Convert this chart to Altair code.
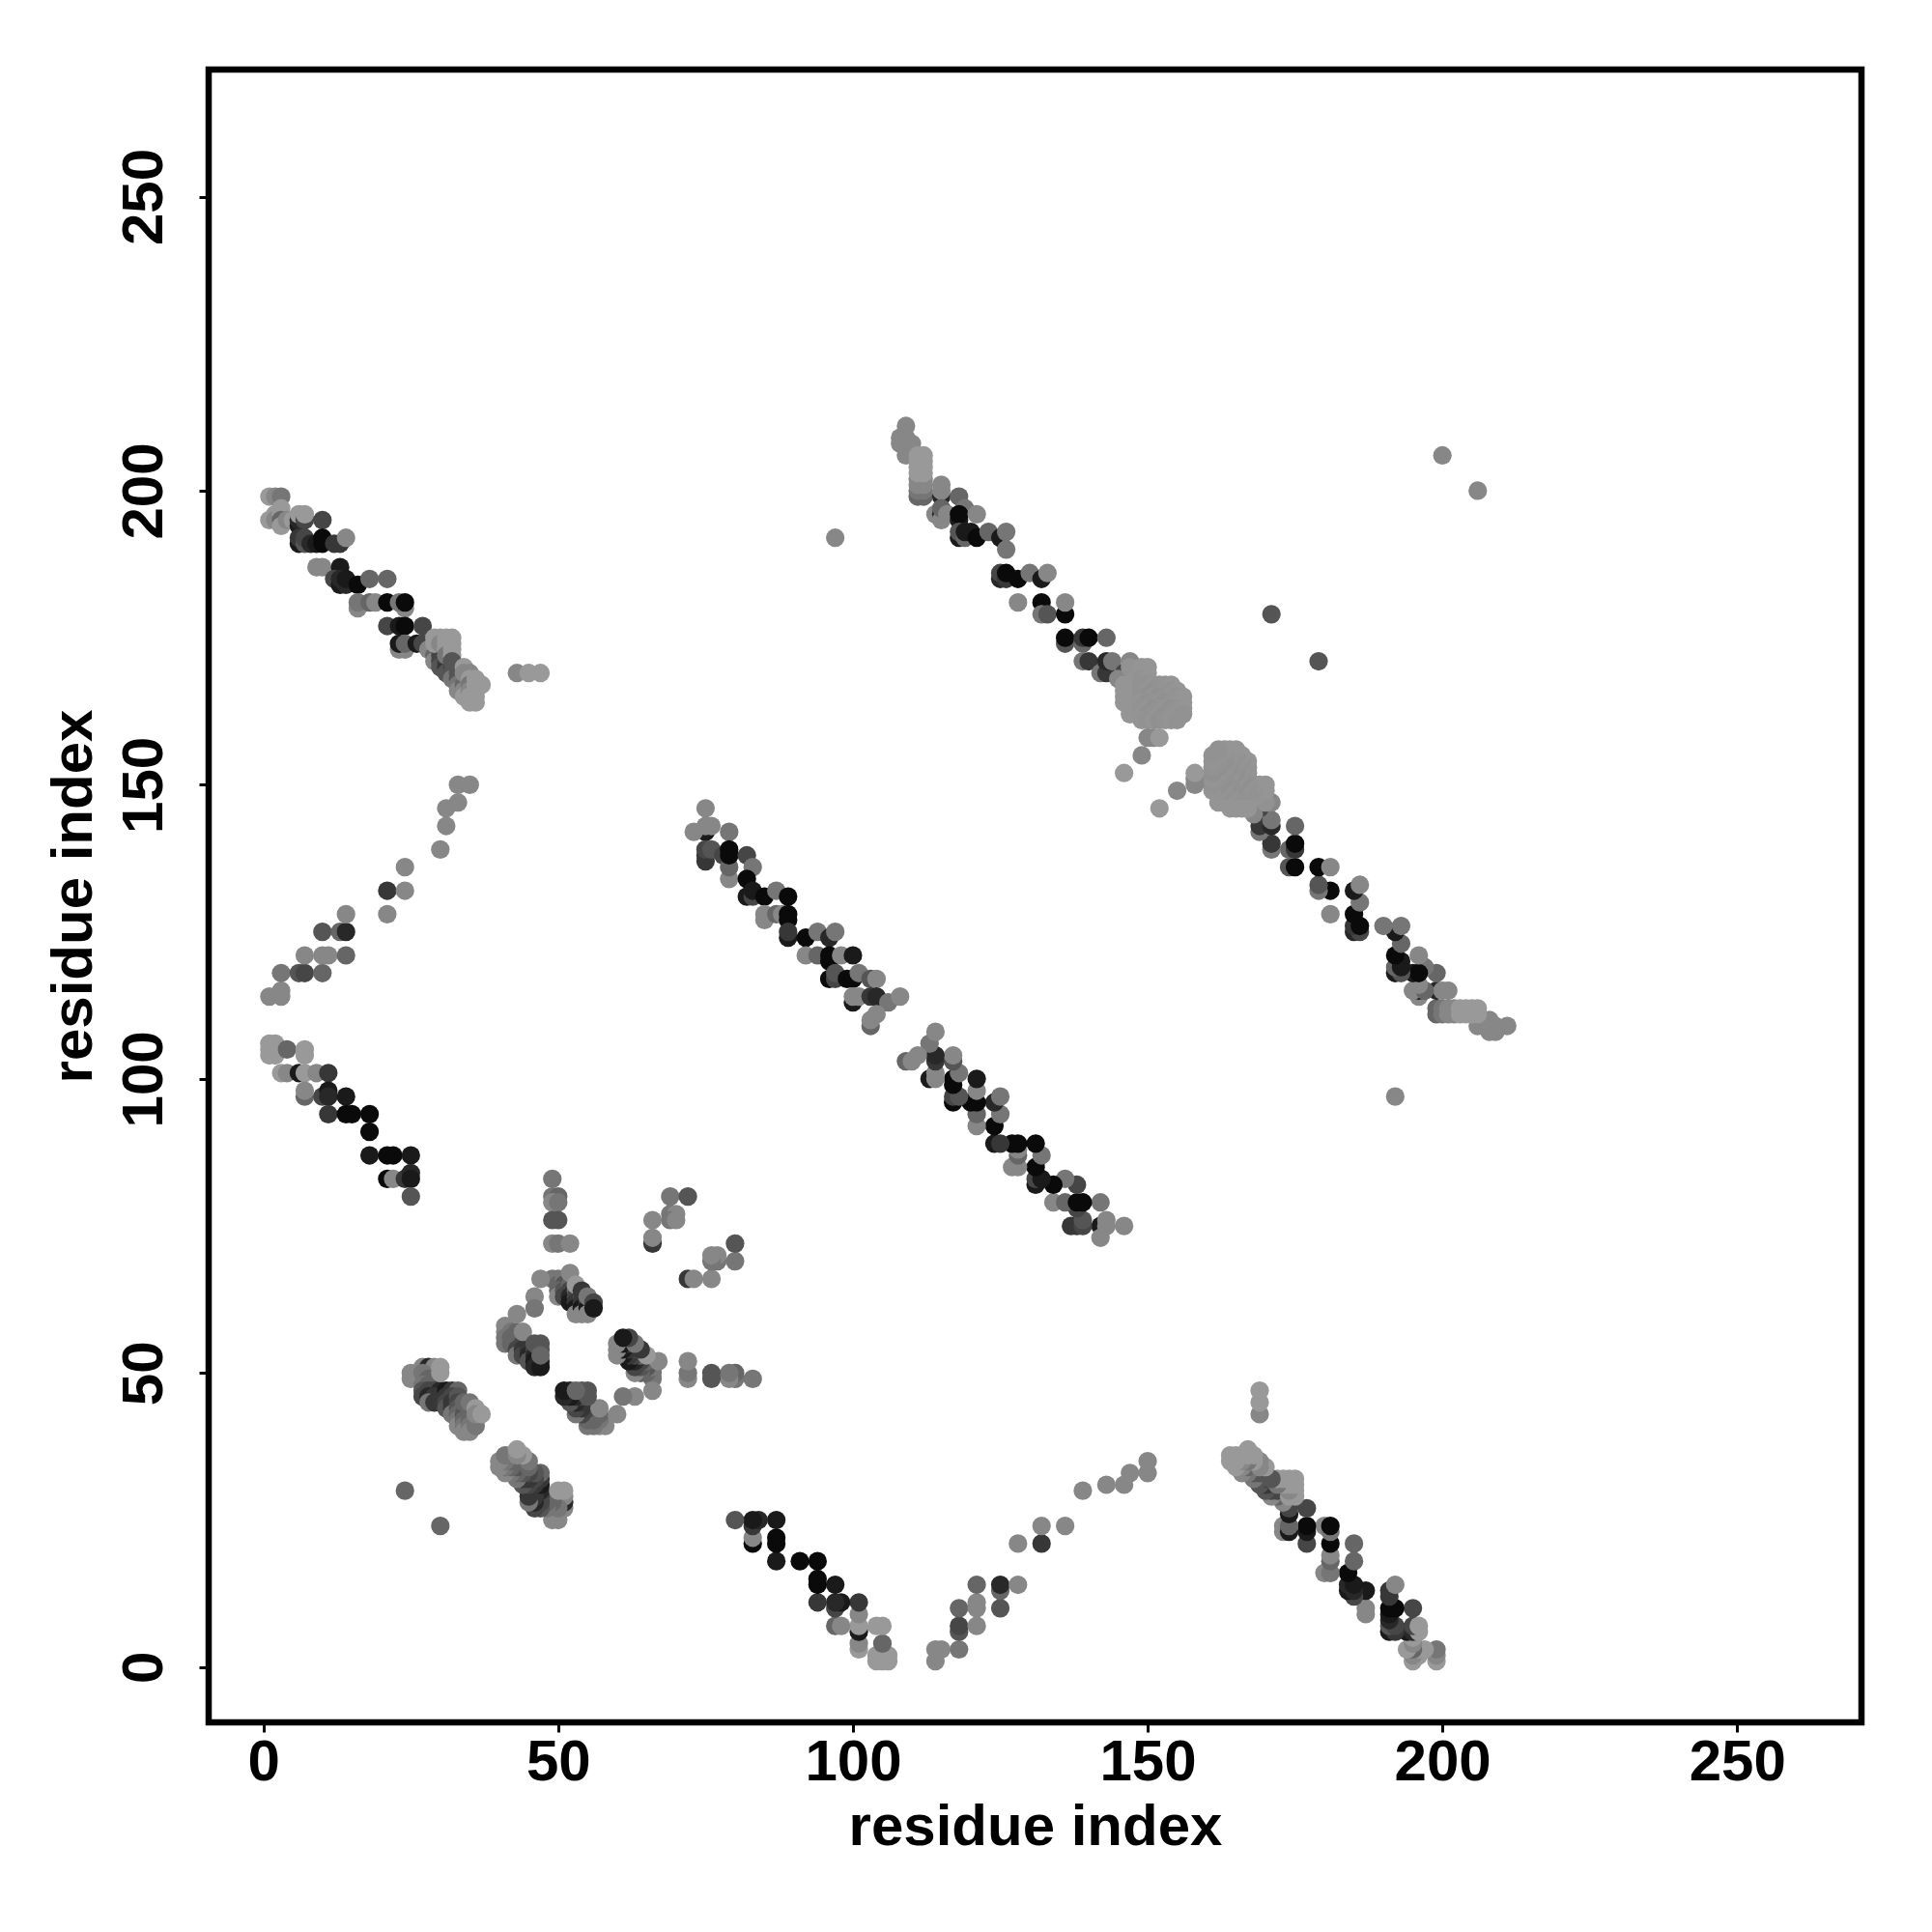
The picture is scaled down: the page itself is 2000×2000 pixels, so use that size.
import altair as alt
import pandas as pd

# A residue contact map is symmetric: each contact (i, j, score) below was read
# from the picture once and is drawn at both (i, j) and (j, i).
# score: 0 = darkest ... 9 = lightest
block_a = [(1,199,9),(2,199,8),(3,199,7),(1,195,9),(2,196,9),(2,195,8),(3,197,9),(3,196,9),(3,195,6),(3,194,9),
 (4,195,8),(5,195,9),(6,194,1),(6,195,2),(6,196,9),(7,195,4),(7,196,9),(10,195,4),(6,191,1),(6,192,3),(7,191,5),(7,192,4),
 (8,191,2),(9,191,1),(10,192,0),(10,191,0),(12,191,3),(13,191,3),(14,192,8),(9,187,8),(10,187,8),(13,187,1),
 (12,185,4),(13,184,1),(14,184,2),(13,185,2),(14,185,1),(16,184,0),(18,185,6),(21,185,6),(16,180,8),(16,181,7),(18,181,6),(19,181,8),
 (21,181,0),(24,180,8),(23,181,7),(24,181,0),(21,177,4),(23,177,1),(24,177,0),(27,177,4),(23,173,8),(24,173,8),(23,174,1),(24,174,6),
 (26,174,1),(27,174,4),(28,173,8),(29,172,6),(29,171,8),(30,173,6),(30,172,4),(30,171,4),(30,170,5),(31,171,4),(31,170,3),(31,169,5),
 (32,170,4),(32,169,5),(32,168,7),(33,170,6),(33,169,5),(33,168,5),(33,167,7),(33,166,8),(34,168,7),(34,167,6),(34,166,8),(34,165,9),
 (29,175,9),(29,174,9),(30,175,9),(30,174,8),(31,175,9),(31,174,9),(31,173,9),(31,172,7),(32,175,9),(32,174,9),(32,173,9),(32,172,9),(32,171,5),
 (34,170,9),(34,169,8),(35,169,8),(35,168,9),(35,167,7),(35,166,8),(35,165,9),(35,164,9),(36,168,9),(36,167,9),(36,166,9),(36,165,9),(36,164,9),(37,167,9),
 (43,169,8),(45,169,9),(47,169,9)]

block_b = [(1,106,9),(2,106,9),(1,105,9),(2,105,9),(1,104,9),(2,104,9),(4,105,6),(7,105,9),(7,104,9),(3,101,9),(4,101,8),(6,101,1),(7,101,9),(9,101,8),(11,101,3),
 (7,97,6),(7,98,8),(10,97,4),(11,98,1),(11,97,2),(14,97,1),(11,94,3),(14,94,0),(15,94,0),(18,94,0),(18,91,0),(18,87,1),(21,87,0),(22,87,0),(25,87,1),
 (21,83,0),(22,83,8),(24,83,3),(25,84,2),(25,83,1),(25,80,5)]

block_c = [(1,114,8),(3,114,8),(3,115,8),(3,118,7),(6,118,5),(7,118,4),(10,118,6),(7,121,8),(10,121,8),(11,121,8),(14,121,6),(10,125,5),(13,125,6),(14,125,2),
 (14,128,8),(21,128,8),(21,132,3),(24,132,8),(24,136,8),(30,139,8),(31,143,8),(31,146,8),(33,147,8),(33,150,8),(35,150,8)]

block_d = [(75,146,8),(75,142,1),(73,142,8),(75,143,8),(76,143,8),(79,142,7),(75,137,3),(75,138,3),(75,139,4),(76,139,5),(78,138,4),(79,134,8),(79,136,6),(79,139,0),(79,138,0),
 (82,138,4),(83,136,7),(82,134,0),(82,131,1),(83,131,4),(83,132,1),(85,131,0),(87,132,7),(89,131,0),(85,127,8),(85,128,8),(87,128,6),(88,128,8),(89,128,0),(89,127,0),
 (89,124,1),(89,125,3),(92,124,0),(94,125,7),(96,124,2),(97,125,7),(92,121,8),(94,121,6),(96,120,0),(96,121,0),(98,121,8),(100,121,1),
 (96,117,0),(97,117,4),(97,118,5),(99,117,0),(100,117,0),(101,118,7),(103,117,5),(104,117,8),(100,113,1),(100,114,8),(101,114,8),(103,114,3),(104,114,2),
 (106,113,7),(108,114,8),(103,109,6),(103,110,8),(104,111,8)]

block_e = [(109,211,8),(108,209,8),(108,208,8),(109,209,8),(109,208,8),(109,206,8),(110,208,8),(110,207,8),
 (111,199,6),(112,199,6),(111,200,7),(112,200,7),(111,201,8),(112,201,8),(111,202,8),(112,202,8),(111,203,9),(112,203,9),(111,204,9),(112,204,9),(111,205,9),(112,205,9),(111,206,9),(112,206,9),
 (115,199,2),(115,200,8),(115,201,8),(118,199,6),(119,197,7),(114,196,8),(115,196,2),(115,195,8),(115,197,6),(116,196,8),(118,195,1),(118,196,0),(121,196,8),
 (118,192,1),(118,193,5),(119,192,6),(119,193,1),(120,193,1),(121,192,0),(123,193,6),(125,192,1),(126,193,7),(126,190,7),
 (125,185,2),(125,186,4),(126,185,3),(126,186,0),(128,185,0),(130,186,7),(132,185,1),(133,186,8),(128,181,8),(132,181,0),(132,179,7),(133,179,5),(136,179,0),(136,181,8),
 (136,174,5),(136,175,0),(139,174,6),(139,175,3),(140,175,0),(143,175,6),(139,171,7),(140,171,3),(142,169,7),(143,169,3),(143,171,2),(144,171,7),(146,169,4),(147,171,8),
 (145,168,8),(146,167,8.8),(146,166,8.8),(146,165,8.8),(146,164,8.8),(147,170,8.6),(147,162,8.8),(148,168,8.8),(148,167,8.8),(148,166,8.8),(148,165,8.8),(148,164,8.8),(148,163,8.8),
 (149,170,8.8),(150,170,8.8),(149,169,8.8),(150,169,8.8),(149,168,8.6),(150,168,8.8),(149,167,8.6),(150,167,8.6),(151,167,8.7),(152,167,8.6),(153,167,8.7),(154,167,8.8),
 (149,166,8.6),(150,166,8.7),(151,166,8.5),(152,166,8.6),(153,166,8.7),(154,166,8.6),(155,166,8.8),
 (149,165,8.6),(150,165,8.5),(151,165,8.7),(152,165,8.5),(153,165,8.6),(154,165,8.7),(155,165,8.6),(156,165,8.8),
 (149,164,8.7),(150,164,8.5),(151,164,8.6),(152,164,8.7),(153,164,8.5),(154,164,8.6),(155,164,8.7),(156,164,8.8),
 (149,163,8.6),(150,163,8.7),(151,163,8.5),(152,163,8.6),(153,163,8.7),(154,163,8.5),(155,163,8.6),(156,163,8.8),
 (149,162,8.7),(150,162,8.5),(151,162,8.6),(152,162,8.7),(153,162,8.5),(154,162,8.6),(155,162,8.7),(156,162,8.6),
 (149,161,8.7),(150,161,8.6),(151,161,8.7),(152,161,8.5),(153,161,8.6),(154,161,8.7),(155,161,8.6),
 (150,158,8),(151,158,8),(152,158,9),(149,155,8),(146,152,9)]

block_g = [(25,50,8),(25,49,8),(27,51,8),(28,51,2),(29,51,8),(27,50,7),(28,49,6),(27,48,7),(28,48,6),(27,47,5),(28,47,4),(29,47,4),(30,47,2),(27,46,4),(28,46,2),(29,46,3),
 (28,45,7),(29,45,3),(30,46,3),(31,47,1),(30,45,3),(31,46,3),(32,47,3),(33,47,6),(31,45,4),(31,44,5),(32,46,4),(32,45,3),(32,44,3),(32,43,7),(33,46,5),(33,45,4),(33,44,5),(33,43,6),
 (33,42,7),(33,41,8),(34,44,6),(34,43,5),(34,42,6),(34,41,7),(34,40,8),(35,44,6),(35,43,6),(35,42,6),(35,41,7),(35,40,8),(30,51,9),(30,50,9),(34,45,6),(35,45,7),(36,42,7),(36,41,7),(36,44,9),(36,43,8),(37,43,9)]

block_h = [(41,58,8),(41,57,8),(41,56,7),(41,55,7),(42,57,7),(42,56,6),(42,55,6),(43,57,6),(43,56,6),(43,55,6),(43,54,4),(43,53,7),(44,56,6),(44,55,4),(44,54,3),(44,53,4),
 (45,55,3),(45,54,3),(45,53,2),(45,52,5),(46,54,4),(46,53,2),(46,52,1),(46,51,2),(47,54,5),(47,52,2),(47,51,1),(44,57,8),(46,55,5),(47,55,5),(47,53,6)]

block_j = [(49,66,7),(50,66,7),(50,65,6),(51,66,7),(51,65,5),(50,64,6),(50,63,8),(51,64,5),(51,63,4),(52,65,6),(52,64,4),(52,63,2),(52,62,1),(53,64,6),(53,63,4),(53,62,3),(53,61,1),
 (53,60,8),(54,63,4),(54,62,3),(54,61,1),(54,60,8),(55,62,3),(55,61,1),(55,60,8),(52,67,8),(53,65,9),(54,64,3),(55,63,7),(56,62,4),(56,61,1)]

scattered = [(49,83,7),(49,80,7),(50,80,6),(49,79,8),(50,79,7),(49,76,5),(50,76,5),(49,72,8),(50,72,7),(52,72,8),(66,72,3),(66,73,8),(66,76,8),(69,80,7),(72,80,5),
 (69,77,7),(70,77,8),(69,76,7),(70,76,8),(47,66,8),(46,63,8),(46,61,7),(43,60,8),(24,30,6),(97,192,8),(200,206,8),(171,179,5)]

blocks = [block_a, block_b, block_c, block_d, block_e, block_g, block_h, block_j, scattered]

tick_values = [0, 50, 100, 150, 200, 250]
axis_title = "residue index"

rows = []
for block in blocks:
    for i, j, s in block:
        rows.append({"a": i, "b": j, "score": s})
    for i, j, s in block:
        rows.append({"a": j, "b": i, "score": s})
df = pd.DataFrame(rows)

FONT = "Liberation Sans"
def axis(**kw):
    return alt.Axis(values=tick_values, grid=False, domain=False, title=axis_title, format="d",
                    labelFont=FONT, labelFontWeight="bold", labelFontSize=60, labelColor="black",
                    titleFont=FONT, titleFontWeight="bold", titleFontSize=60, titleColor="black",
                    tickColor="black", tickWidth=3, tickSize=10, labelOverlap=False, labelFlush=False, **kw)

chart = (
    alt.Chart(df)
    .mark_circle(size=370, opacity=1, stroke=None)
    .encode(
        x=alt.X("a:Q", scale=alt.Scale(domain=[-9.3, 271.1], nice=False, zero=False),
                axis=axis(labelPadding=2, titlePadding=8)),
        y=alt.Y("b:Q", scale=alt.Scale(domain=[-9.4, 271.6], nice=False, zero=False),
                axis=axis(labelAngle=270, labelAlign="center", labelBaseline="bottom", labelPadding=26, titlePadding=12)),
        color=alt.Color("score:Q", legend=None,
                        scale=alt.Scale(domain=[0, 9], range=["#0a0a0a", "#999999"])),
    )
    .properties(width=1711, height=1711,
                autosize=alt.AutoSizeParams(type="none"),
                padding={"left": 208, "top": 64, "right": 60, "bottom": 200})
    .configure_view(stroke="black", strokeWidth=6.5)
)

chart.save("out.html", embed_options={"renderer": "svg", "actions": False})
